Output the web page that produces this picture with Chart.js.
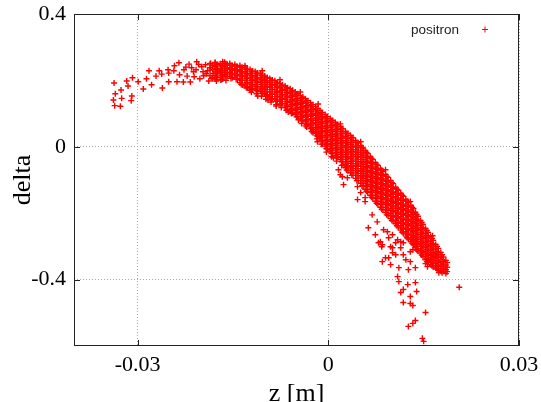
<!DOCTYPE html>
<html>
<head>
<meta charset="utf-8">
<script src="https://cdn.jsdelivr.net/npm/chart.js@4.4.1/dist/chart.umd.min.js"></script>
<style>
  html, body { margin: 0; padding: 0; background: #fff; }
</style>
</head>
<body>
<canvas id="phaseChart" width="541" height="402"></canvas>
<script>
const seriesName = "positron";
const zTicks = [-0.03, 0, 0.03];
const deltaTicks = [-0.4, 0, 0.4];

// sparse points at the left end of the arc, [z, delta]
const tailPoints = [
    [-0.0337, 0.192], [-0.0335, 0.160], [-0.0338, 0.141], [-0.0336, 0.124],
    [-0.0326, 0.171], [-0.0325, 0.146], [-0.0327, 0.122], [-0.0317, 0.198],
    [-0.0315, 0.183], [-0.0309, 0.153], [-0.0310, 0.139], [-0.0308, 0.208],
    [-0.0299, 0.196], [-0.0291, 0.174], [-0.0286, 0.205], [-0.0282, 0.229],
    [-0.0278, 0.187], [-0.0271, 0.213], [-0.0266, 0.229], [-0.0261, 0.177],
    [-0.0262, 0.219], [-0.0252, 0.232], [-0.0251, 0.196], [-0.0251, 0.222],
    [-0.0243, 0.229], [-0.0238, 0.196], [-0.0235, 0.253], [-0.0234, 0.217],
    [-0.0228, 0.195], [-0.0224, 0.240], [-0.0222, 0.213], [-0.0217, 0.195],
    [-0.0215, 0.238], [-0.0211, 0.211], [-0.0207, 0.256], [-0.0202, 0.205],
    [-0.0199, 0.241], [-0.0193, 0.247], [-0.0192, 0.220], [-0.0242, 0.244],
    [-0.0227, 0.232], [-0.0208, 0.232], [-0.0197, 0.226], [-0.0186, 0.238],
    [-0.0183, 0.208], [-0.0178, 0.253], [-0.0174, 0.226], [-0.0169, 0.201],
    [-0.0188, 0.198], [-0.0204, 0.248], [-0.0196, 0.214], [-0.0190, 0.229],
    [-0.0185, 0.251], [-0.0181, 0.221], [-0.0212, 0.226], [-0.0219, 0.249]
];

// dense core of the band, one entry per z column: [z, [delta, ...]]
const bandColumns = [
    [-0.0186, [0.250, 0.231, 0.214]],
    [-0.0182, [0.244, 0.233, 0.205]],
    [-0.0178, [0.254, 0.241, 0.228, 0.215, 0.204]],
    [-0.0174, [0.248, 0.235, 0.222, 0.209]],
    [-0.0170, [0.250, 0.236, 0.223, 0.209]],
    [-0.0166, [0.256, 0.243, 0.229, 0.216, 0.204]],
    [-0.0163, [0.255, 0.243, 0.230, 0.217]],
    [-0.0159, [0.249, 0.236, 0.223, 0.212]],
    [-0.0155, [0.251, 0.238, 0.225, 0.213]],
    [-0.0151, [0.245, 0.232, 0.219, 0.208]],
    [-0.0147, [0.248, 0.235, 0.222, 0.210]],
    [-0.0143, [0.242, 0.229, 0.216, 0.203]],
    [-0.0139, [0.245, 0.232, 0.219, 0.206, 0.193]],
    [-0.0135, [0.239, 0.226, 0.213, 0.200, 0.186]],
    [-0.0131, [0.239, 0.226, 0.213, 0.200, 0.183]],
    [-0.0127, [0.234, 0.221, 0.207, 0.193, 0.179]],
    [-0.0123, [0.233, 0.220, 0.207, 0.194, 0.181, 0.170]],
    [-0.0119, [0.228, 0.214, 0.200, 0.187, 0.174]],
    [-0.0115, [0.227, 0.214, 0.201, 0.188, 0.176]],
    [-0.0111, [0.222, 0.208, 0.194, 0.181, 0.168]],
    [-0.0107, [0.221, 0.208, 0.195, 0.181, 0.167]],
    [-0.0103, [0.216, 0.202, 0.188, 0.174, 0.161]],
    [-0.0100, [0.213, 0.200, 0.187, 0.173, 0.159]],
    [-0.0096, [0.209, 0.195, 0.181, 0.167, 0.154]],
    [-0.0092, [0.206, 0.193, 0.180, 0.166, 0.150]],
    [-0.0088, [0.201, 0.187, 0.173, 0.159, 0.145]],
    [-0.0084, [0.199, 0.186, 0.172, 0.158, 0.143]],
    [-0.0080, [0.194, 0.180, 0.166, 0.152, 0.138]],
    [-0.0076, [0.190, 0.177, 0.163, 0.150, 0.137, 0.126]],
    [-0.0072, [0.186, 0.172, 0.158, 0.144, 0.130]],
    [-0.0068, [0.183, 0.170, 0.157, 0.143, 0.130, 0.118]],
    [-0.0064, [0.178, 0.164, 0.150, 0.136, 0.122, 0.112]],
    [-0.0060, [0.175, 0.161, 0.148, 0.134, 0.121, 0.108]],
    [-0.0056, [0.170, 0.156, 0.142, 0.128, 0.114, 0.102]],
    [-0.0052, [0.165, 0.152, 0.138, 0.124, 0.110, 0.097]],
    [-0.0048, [0.160, 0.146, 0.132, 0.118, 0.104, 0.091]],
    [-0.0044, [0.154, 0.140, 0.127, 0.113, 0.099, 0.085]],
    [-0.0040, [0.150, 0.136, 0.122, 0.108, 0.094, 0.080]],
    [-0.0036, [0.145, 0.131, 0.117, 0.103, 0.089, 0.075]],
    [-0.0032, [0.139, 0.125, 0.111, 0.097, 0.083, 0.069]],
    [-0.0028, [0.133, 0.120, 0.106, 0.092, 0.078, 0.064, 0.055]],
    [-0.0024, [0.127, 0.113, 0.099, 0.085, 0.071, 0.057, 0.047]],
    [-0.0020, [0.121, 0.108, 0.094, 0.080, 0.066, 0.052, 0.040]],
    [-0.0016, [0.115, 0.101, 0.087, 0.073, 0.059, 0.045, 0.031]],
    [-0.0013, [0.109, 0.096, 0.082, 0.068, 0.054, 0.040, 0.025]],
    [-0.0009, [0.103, 0.089, 0.075, 0.061, 0.047, 0.033, 0.019, 0.008]],
    [-0.0005, [0.097, 0.084, 0.070, 0.056, 0.042, 0.028, 0.014, 0.002]],
    [-0.0001, [0.091, 0.077, 0.063, 0.049, 0.035, 0.021, 0.007, -0.007]],
    [0.0003, [0.085, 0.072, 0.058, 0.044, 0.030, 0.016, 0.002, -0.013]],
    [0.0007, [0.079, 0.065, 0.051, 0.037, 0.023, 0.009, -0.005, -0.019]],
    [0.0011, [0.073, 0.060, 0.046, 0.032, 0.018, 0.004, -0.010, -0.026]],
    [0.0015, [0.067, 0.053, 0.039, 0.025, 0.011, -0.003, -0.017, -0.031]],
    [0.0019, [0.061, 0.047, 0.033, 0.019, 0.005, -0.009, -0.023, -0.038]],
    [0.0023, [0.054, 0.040, 0.026, 0.012, -0.002, -0.016, -0.030, -0.044, -0.055]],
    [0.0027, [0.046, 0.032, 0.018, 0.004, -0.010, -0.024, -0.038, -0.052, -0.063]],
    [0.0031, [0.040, 0.026, 0.012, -0.002, -0.016, -0.030, -0.044, -0.058, -0.072]],
    [0.0035, [0.034, 0.020, 0.006, -0.008, -0.022, -0.036, -0.050, -0.064, -0.078]],
    [0.0039, [0.027, 0.013, -0.001, -0.015, -0.029, -0.043, -0.057, -0.071, -0.086]],
    [0.0043, [0.019, 0.005, -0.009, -0.023, -0.037, -0.051, -0.065, -0.079, -0.095]],
    [0.0047, [0.011, -0.003, -0.017, -0.031, -0.045, -0.059, -0.073, -0.087, -0.102]],
    [0.0051, [0.004, -0.010, -0.024, -0.038, -0.052, -0.066, -0.080, -0.094, -0.110]],
    [0.0055, [-0.004, -0.018, -0.032, -0.046, -0.060, -0.074, -0.088, -0.102, -0.118]],
    [0.0058, [-0.011, -0.025, -0.039, -0.053, -0.067, -0.081, -0.095, -0.110, -0.128]],
    [0.0062, [-0.020, -0.034, -0.048, -0.062, -0.076, -0.090, -0.104, -0.119, -0.137]],
    [0.0066, [-0.029, -0.043, -0.057, -0.071, -0.085, -0.099, -0.113, -0.128, -0.146]],
    [0.0070, [-0.038, -0.052, -0.066, -0.080, -0.094, -0.108, -0.122, -0.137, -0.155]],
    [0.0074, [-0.047, -0.061, -0.075, -0.089, -0.103, -0.117, -0.131, -0.146, -0.164]],
    [0.0078, [-0.056, -0.070, -0.084, -0.098, -0.112, -0.126, -0.140, -0.155, -0.173]],
    [0.0082, [-0.065, -0.079, -0.093, -0.107, -0.121, -0.135, -0.149, -0.164, -0.182]],
    [0.0086, [-0.074, -0.088, -0.102, -0.116, -0.130, -0.144, -0.158, -0.173, -0.190]],
    [0.0090, [-0.083, -0.097, -0.111, -0.125, -0.139, -0.153, -0.167, -0.182, -0.198]],
    [0.0094, [-0.092, -0.106, -0.120, -0.134, -0.148, -0.162, -0.176, -0.191, -0.207]],
    [0.0098, [-0.101, -0.115, -0.129, -0.143, -0.157, -0.171, -0.185, -0.200, -0.216]],
    [0.0102, [-0.111, -0.125, -0.139, -0.153, -0.167, -0.181, -0.195, -0.210, -0.224]],
    [0.0106, [-0.122, -0.136, -0.150, -0.164, -0.178, -0.192, -0.206, -0.220, -0.232]],
    [0.0110, [-0.131, -0.145, -0.159, -0.173, -0.187, -0.201, -0.215, -0.229, -0.242]],
    [0.0114, [-0.140, -0.154, -0.168, -0.182, -0.196, -0.210, -0.224, -0.238, -0.251]],
    [0.0118, [-0.149, -0.163, -0.177, -0.191, -0.205, -0.219, -0.233, -0.247, -0.260]],
    [0.0122, [-0.158, -0.172, -0.186, -0.200, -0.214, -0.228, -0.242, -0.256, -0.269]],
    [0.0126, [-0.167, -0.181, -0.195, -0.209, -0.223, -0.237, -0.251, -0.265, -0.278]],
    [0.0130, [-0.176, -0.190, -0.204, -0.218, -0.232, -0.246, -0.260, -0.274, -0.286]],
    [0.0134, [-0.186, -0.200, -0.214, -0.228, -0.242, -0.256, -0.270, -0.284, -0.295]],
    [0.0137, [-0.197, -0.211, -0.225, -0.239, -0.253, -0.267, -0.281, -0.295, -0.304]],
    [0.0141, [-0.209, -0.223, -0.237, -0.251, -0.265, -0.279, -0.293, -0.307, -0.314]],
    [0.0145, [-0.222, -0.236, -0.250, -0.264, -0.278, -0.292, -0.306, -0.320]],
    [0.0149, [-0.234, -0.248, -0.262, -0.276, -0.290, -0.304, -0.318, -0.331]],
    [0.0153, [-0.246, -0.260, -0.274, -0.288, -0.302, -0.316, -0.330, -0.340]],
    [0.0157, [-0.258, -0.272, -0.286, -0.300, -0.314, -0.328, -0.342, -0.349]],
    [0.0161, [-0.270, -0.284, -0.298, -0.312, -0.326, -0.340, -0.354]],
    [0.0165, [-0.282, -0.296, -0.310, -0.324, -0.338, -0.352, -0.362]],
    [0.0169, [-0.294, -0.308, -0.322, -0.336, -0.350, -0.365]],
    [0.0173, [-0.306, -0.320, -0.334, -0.348, -0.362, -0.372]],
    [0.0177, [-0.318, -0.332, -0.346, -0.360, -0.375]],
    [0.0181, [-0.332, -0.346, -0.360, -0.374]],
    [0.0185, [-0.342, -0.356, -0.370, -0.382]]
];

// second layer of the band, read between the rows above
const bandFill = [
    [-0.0176, [0.248, 0.235, 0.222, 0.210, 0.198]],
    [-0.0168, [0.244, 0.230, 0.216, 0.203]],
    [-0.0161, [0.250, 0.237, 0.224, 0.211, 0.200]],
    [-0.0153, [0.245, 0.232, 0.219, 0.206]],
    [-0.0145, [0.242, 0.229, 0.216, 0.203]],
    [-0.0137, [0.239, 0.226, 0.213, 0.200, 0.188]],
    [-0.0129, [0.233, 0.220, 0.207, 0.192, 0.178]],
    [-0.0121, [0.227, 0.214, 0.200, 0.187, 0.175, 0.164]],
    [-0.0113, [0.221, 0.208, 0.195, 0.182, 0.170, 0.160]],
    [-0.0105, [0.215, 0.202, 0.188, 0.174, 0.161, 0.152]],
    [-0.0098, [0.207, 0.194, 0.180, 0.166, 0.152, 0.143]],
    [-0.0090, [0.200, 0.187, 0.173, 0.158, 0.143, 0.135]],
    [-0.0082, [0.193, 0.179, 0.165, 0.151, 0.137, 0.127]],
    [-0.0074, [0.184, 0.170, 0.157, 0.143, 0.130, 0.118]],
    [-0.0066, [0.177, 0.164, 0.150, 0.136, 0.123, 0.110]],
    [-0.0058, [0.168, 0.155, 0.141, 0.127, 0.114, 0.100]],
    [-0.0050, [0.159, 0.145, 0.131, 0.117, 0.103, 0.090]],
    [-0.0042, [0.148, 0.134, 0.120, 0.106, 0.092, 0.078, 0.070]],
    [-0.0034, [0.139, 0.124, 0.110, 0.096, 0.082, 0.068, 0.060]],
    [-0.0026, [0.127, 0.113, 0.099, 0.085, 0.071, 0.057, 0.046]],
    [-0.0018, [0.115, 0.101, 0.087, 0.073, 0.059, 0.045, 0.033, 0.024]],
    [-0.0011, [0.103, 0.089, 0.075, 0.061, 0.047, 0.033, 0.018, 0.008]],
    [-0.0003, [0.091, 0.077, 0.063, 0.049, 0.035, 0.021, 0.007, -0.006, -0.016]],
    [0.0005, [0.079, 0.065, 0.051, 0.037, 0.023, 0.009, -0.005, -0.020, -0.030]],
    [0.0013, [0.067, 0.053, 0.039, 0.025, 0.011, -0.003, -0.017, -0.033, -0.043]],
    [0.0021, [0.055, 0.041, 0.027, 0.013, -0.001, -0.016, -0.030, -0.045, -0.056]],
    [0.0029, [0.040, 0.026, 0.012, -0.002, -0.017, -0.031, -0.045, -0.059, -0.070]],
    [0.0037, [0.028, 0.014, 0.000, -0.014, -0.029, -0.043, -0.057, -0.071, -0.086]],
    [0.0045, [0.013, -0.001, -0.016, -0.030, -0.044, -0.058, -0.072, -0.086, -0.102]],
    [0.0053, [-0.002, -0.017, -0.031, -0.045, -0.059, -0.073, -0.087, -0.101, -0.118]],
    [0.0060, [-0.017, -0.032, -0.046, -0.060, -0.074, -0.088, -0.102, -0.118, -0.134]],
    [0.0068, [-0.035, -0.050, -0.064, -0.078, -0.092, -0.106, -0.120, -0.136, -0.152]],
    [0.0076, [-0.053, -0.068, -0.082, -0.096, -0.110, -0.124, -0.138, -0.154, -0.170]],
    [0.0084, [-0.071, -0.086, -0.100, -0.114, -0.128, -0.142, -0.156, -0.172, -0.188]],
    [0.0092, [-0.089, -0.104, -0.118, -0.132, -0.146, -0.160, -0.174, -0.190, -0.205]],
    [0.0100, [-0.108, -0.122, -0.136, -0.150, -0.164, -0.178, -0.192, -0.208, -0.222]],
    [0.0108, [-0.128, -0.143, -0.157, -0.171, -0.185, -0.199, -0.213, -0.227, -0.238]],
    [0.0116, [-0.146, -0.161, -0.175, -0.189, -0.203, -0.217, -0.231, -0.245, -0.257]],
    [0.0124, [-0.164, -0.179, -0.193, -0.207, -0.221, -0.235, -0.249, -0.263, -0.274]],
    [0.0132, [-0.183, -0.197, -0.211, -0.225, -0.239, -0.253, -0.267, -0.280, -0.291]],
    [0.0139, [-0.204, -0.218, -0.232, -0.246, -0.260, -0.274, -0.288, -0.300, -0.310]],
    [0.0147, [-0.228, -0.243, -0.257, -0.271, -0.285, -0.299, -0.313, -0.326]],
    [0.0155, [-0.252, -0.267, -0.281, -0.295, -0.309, -0.323, -0.336, -0.346]],
    [0.0163, [-0.276, -0.291, -0.305, -0.319, -0.333, -0.347, -0.358]],
    [0.0171, [-0.300, -0.315, -0.329, -0.343, -0.357, -0.368]],
    [0.0179, [-0.325, -0.339, -0.353, -0.367, -0.379]],
    [0.0187, [-0.349, -0.363, -0.376]]
];

// stray points along the upper and lower edges of the band, [z, delta]
const edgePoints = [
    [-0.0123, 0.171], [-0.0111, 0.153], [-0.0095, 0.141], [-0.0082, 0.123],
    [-0.0063, 0.105], [-0.0047, 0.081], [-0.0036, 0.063], [-0.0131, 0.244],
    [-0.0104, 0.229], [-0.0076, 0.202], [-0.0044, 0.165], [-0.0016, 0.129],
    [0.0019, 0.069], [0.0051, 0.015], [0.0090, -0.069], [0.0129, -0.165],
    [0.0164, -0.268], [0.0008, -0.033]
];

// scattered points below the band and the lower branch, [z, delta]
const lowerPoints = [
    [-0.0024, 0.042], [-0.0013, 0.030], [-0.0017, 0.015], [0.0003, -0.009],
    [0.0016, -0.069], [0.0019, -0.084], [0.0030, -0.093], [0.0024, -0.114],
    [0.0046, -0.120], [0.0046, -0.159], [0.0058, -0.165], [0.0069, -0.205],
    [0.0077, -0.226], [0.0063, -0.244], [0.0074, -0.265], [0.0082, -0.286],
    [0.0095, -0.274], [0.0106, -0.289], [0.0098, -0.301], [0.0114, -0.286],
    [0.0022, -0.090], [0.0051, -0.138], [0.0058, -0.153], [0.0087, -0.250],
    [0.0101, -0.265], [0.0109, -0.280], [0.0101, -0.304], [0.0114, -0.304],
    [0.0129, -0.316], [0.0090, -0.334], [0.0098, -0.355], [0.0111, -0.364],
    [0.0129, -0.346], [0.0126, -0.370], [0.0137, -0.364], [0.0156, -0.361],
    [0.0161, -0.325], [0.0169, -0.325], [0.0109, -0.391], [0.0111, -0.406],
    [0.0125, -0.415], [0.0137, -0.409], [0.0079, -0.289], [0.0084, -0.301],
    [0.0106, -0.325], [0.0118, -0.289], [0.0118, -0.325], [0.0085, -0.346],
    [0.0095, -0.334], [0.0122, -0.340], [0.0153, -0.352], [0.0161, -0.346],
    [0.0174, -0.379], [0.0185, -0.370], [0.0114, -0.439], [0.0118, -0.430],
    [0.0139, -0.436], [0.0129, -0.451], [0.0118, -0.469], [0.0129, -0.472],
    [0.0133, -0.478], [0.0153, -0.499], [0.0137, -0.523], [0.0133, -0.532],
    [0.0126, -0.541], [0.0148, -0.577], [0.0150, -0.586], [0.0206, -0.423],
    [0.0093, -0.256], [0.0085, -0.295], [0.0101, -0.319], [0.0133, -0.310],
    [0.0166, -0.331]
];

const points = [];
tailPoints.forEach(([z, d]) => points.push({ x: z, y: d }));
bandColumns.concat(bandFill).forEach(([z, ds]) => ds.forEach(d => points.push({ x: z, y: d })));
edgePoints.concat(lowerPoints).forEach(([z, d]) => points.push({ x: z, y: d }));

const serif = "'Liberation Serif', 'Times New Roman', serif";

// gnuplot style frame, inward tick marks and the key in the top right corner
const framePlugin = {
    id: "frame",
    beforeDatasetsDraw(chart) {
        const { ctx, chartArea: a, scales } = chart;
        ctx.save();
        ctx.strokeStyle = "#222";
        ctx.lineWidth = 1;
        ctx.strokeRect(a.left + 0.5, a.top + 0.5, a.right - a.left - 1, a.bottom - a.top - 1);
        ctx.beginPath();
        zTicks.forEach(v => {
            const px = Math.round(scales.x.getPixelForValue(v)) + 0.5;
            ctx.moveTo(px, a.bottom); ctx.lineTo(px, a.bottom - 6);
            ctx.moveTo(px, a.top); ctx.lineTo(px, a.top + 6);
        });
        deltaTicks.forEach(v => {
            const py = Math.round(scales.y.getPixelForValue(v)) + 0.5;
            ctx.moveTo(a.left, py); ctx.lineTo(a.left + 6, py);
            ctx.moveTo(a.right, py); ctx.lineTo(a.right - 6, py);
        });
        ctx.stroke();
        ctx.restore();
    },
    afterDraw(chart) {
        const { ctx, chartArea: a } = chart;
        const ds = chart.data.datasets[0];
        ctx.save();
        ctx.font = "13.5px 'Liberation Sans', Arial, sans-serif";
        ctx.fillStyle = "#222";
        ctx.textAlign = "right";
        ctx.textBaseline = "middle";
        ctx.fillText(ds.label, a.right - 60, a.top + 16);
        const mx = a.right - 34, my = a.top + 15.5;
        ctx.strokeStyle = ds.borderColor;
        ctx.lineWidth = 1;
        ctx.beginPath();
        ctx.moveTo(mx - 3, my); ctx.lineTo(mx + 3, my);
        ctx.moveTo(mx, my - 3); ctx.lineTo(mx, my + 3);
        ctx.stroke();
        ctx.restore();
    }
};

new Chart(document.getElementById("phaseChart"), {
    type: "scatter",
    data: {
        datasets: [{
            label: seriesName,
            data: points,
            pointStyle: "cross",
            pointRadius: 3,
            borderColor: "#ff0000",
            backgroundColor: "#ff0000",
            borderWidth: 1.4
        }]
    },
    options: {
        responsive: false,
        devicePixelRatio: 1,
        animation: false,
        events: [],
        layout: { padding: { top: 14, right: 22, left: 0, bottom: 0 } },
        plugins: { legend: { display: false }, tooltip: { enabled: false } },
        scales: {
            x: {
                type: "linear",
                min: -0.04,
                max: 0.03,
                afterBuildTicks: s => { s.ticks = zTicks.map(v => ({ value: v })); },
                afterFit: s => { s.height = 56; s.paddingLeft = 0; s.paddingRight = 20; },
                ticks: {
                    font: { family: serif, size: 22 },
                    color: "#000",
                    padding: 6,
                    maxRotation: 0,
                    callback: v => String(v)
                },
                grid: { color: "#a8a8a8", drawTicks: false },
                border: { display: false, dash: [1, 2] },
                title: {
                    display: true,
                    text: "z [m]",
                    font: { family: serif, size: 26, lineHeight: 0.57 },
                    color: "#000",
                    padding: 0
                }
            },
            y: {
                type: "linear",
                min: -0.6,
                max: 0.4,
                afterBuildTicks: s => { s.ticks = deltaTicks.map(v => ({ value: v })); },
                afterFit: s => { s.width = 74; s.paddingTop = 12; s.paddingBottom = 12; },
                ticks: {
                    font: { family: serif, size: 22 },
                    color: "#000",
                    padding: 8,
                    callback: v => String(v)
                },
                grid: { color: "#a8a8a8", drawTicks: false },
                border: { display: false, dash: [1, 2] },
                title: {
                    display: true,
                    text: "delta",
                    font: { family: serif, size: 26 },
                    color: "#000",
                    padding: { top: 8, bottom: 0 }
                }
            }
        }
    },
    plugins: [framePlugin]
});
</script>
</body>
</html>
